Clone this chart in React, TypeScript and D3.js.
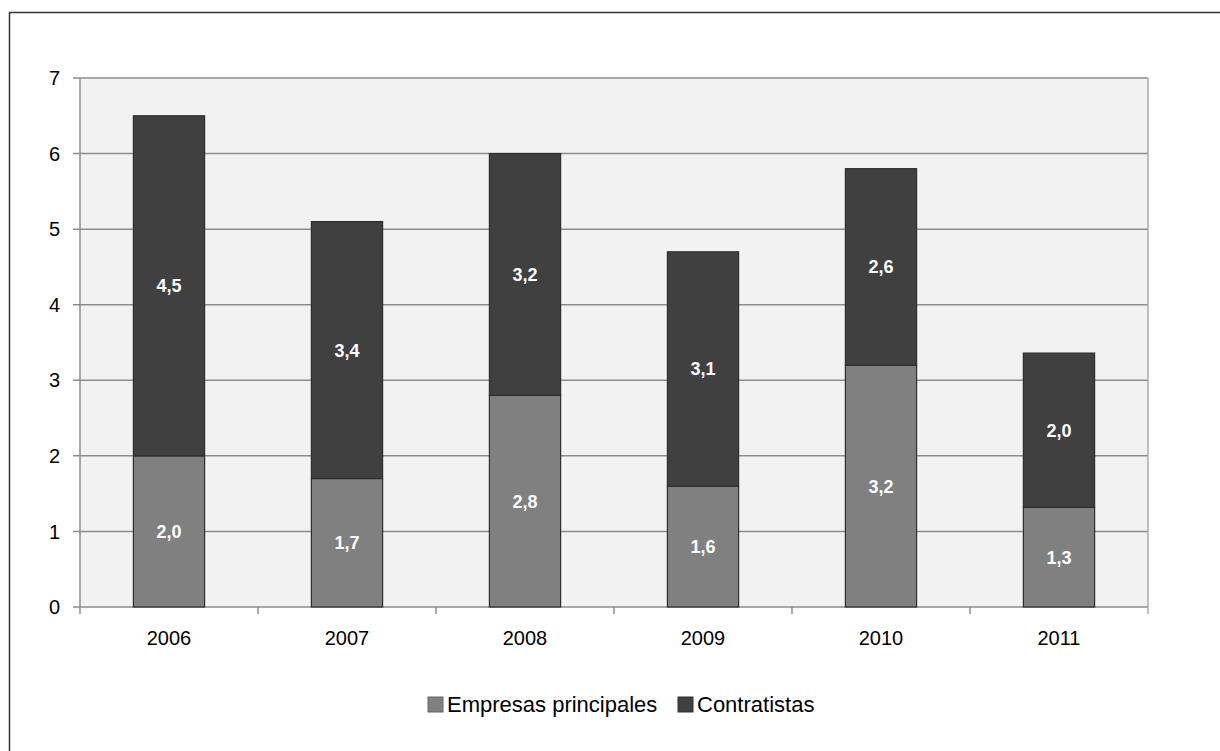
import * as d3 from "d3";

const years = ["2006", "2007", "2008", "2009", "2010", "2011"];
const empresas = [2.0, 1.7, 2.8, 1.6, 3.2, 1.32];
const contratistas = [4.5, 3.4, 3.2, 3.1, 2.6, 2.04];
const yTicks = [0, 1, 2, 3, 4, 5, 6, 7];

const seriesNames = ["Empresas principales", "Contratistas"];
const seriesColors = ["#808080", "#404040"];

const W = 1220;
const H = 751;
const margin = { left: 80, right: 72, top: 78, bottom: 144 };

const fmt = (v: number) => v.toFixed(1).replace(".", ",");

export default function App() {
  const x = d3
    .scaleBand<string>()
    .domain(years)
    .range([margin.left, W - margin.right])
    .paddingInner(0.6)
    .paddingOuter(0.3);
  const xOuter = d3.scaleBand<string>().domain(years).range([margin.left, W - margin.right]);
  const y = d3.scaleLinear().domain([0, 7]).range([H - margin.bottom, margin.top]);

  const rows = years.map((yr, i) => ({ year: yr, a: empresas[i], b: contratistas[i] }));
  const stack = d3.stack<any>().keys(["a", "b"])(rows);

  const font = "Arial, 'Liberation Sans', sans-serif";
  const x0 = margin.left;
  const x1 = W - margin.right;
  const y0 = y(0);
  const yTop = y(7);

  return (
    <svg
      width={W}
      height={H}
      style={{ position: "absolute", left: 0, top: 0, background: "#fff" }}
      fontFamily={font}
    >
      <rect x={9.5} y={12.5} width={W} height={H} fill="none" stroke="#333" strokeWidth={1.5} />
      <rect x={x0} y={yTop} width={x1 - x0} height={y0 - yTop} fill="#f2f2f2" />
      {yTicks.map((t) => (
        <g key={t}>
          <line x1={x0 - 7} x2={x1} y1={y(t)} y2={y(t)} stroke="#8c8c8c" strokeWidth={1.5} />
          <text x={60} y={y(t)} dy="0.36em" textAnchor="end" fontSize={20} fill="#000">
            {t}
          </text>
        </g>
      ))}
      <line x1={x0} x2={x0} y1={yTop} y2={y0} stroke="#8c8c8c" strokeWidth={1.5} />
      <line x1={x1} x2={x1} y1={yTop} y2={y0 + 7} stroke="#aaa" strokeWidth={1.5} />
      {years.map((yr) => (
        <line
          key={"t" + yr}
          x1={xOuter(yr)!}
          x2={xOuter(yr)!}
          y1={y0}
          y2={y0 + 7}
          stroke="#8c8c8c"
          strokeWidth={1.5}
        />
      ))}
      {stack.map((s, si) =>
        s.map((d, i) => (
          <g key={si + "-" + i}>
            <rect
              x={x(years[i])!}
              y={y(d[1])}
              width={x.bandwidth()}
              height={y(d[0]) - y(d[1])}
              fill={seriesColors[si]}
              stroke="#2e2e2e"
              strokeWidth={1.2}
            />
            <text
              x={x(years[i])! + x.bandwidth() / 2}
              y={(y(d[0]) + y(d[1])) / 2}
              dy="0.36em"
              textAnchor="middle"
              fill="#fff"
              fontWeight="bold"
              fontSize={18}
            >
              {fmt(d[1] - d[0])}
            </text>
          </g>
        ))
      )}
      {years.map((yr) => (
        <text
          key={"l" + yr}
          x={xOuter(yr)! + xOuter.bandwidth() / 2}
          y={638}
          dy="0.36em"
          textAnchor="middle"
          fontSize={20}
          fill="#000"
        >
          {yr}
        </text>
      ))}
      <g>
        <rect x={428} y={697} width={15} height={15} fill={seriesColors[0]} stroke="#666" strokeWidth={1} />
        <text x={447} y={712} fontSize={22} fill="#000">
          {seriesNames[0]}
        </text>
        <rect x={678} y={697} width={15} height={15} fill={seriesColors[1]} stroke="#333" strokeWidth={1} />
        <text x={697} y={712} fontSize={22} fill="#000">
          {seriesNames[1]}
        </text>
      </g>
    </svg>
  );
}
